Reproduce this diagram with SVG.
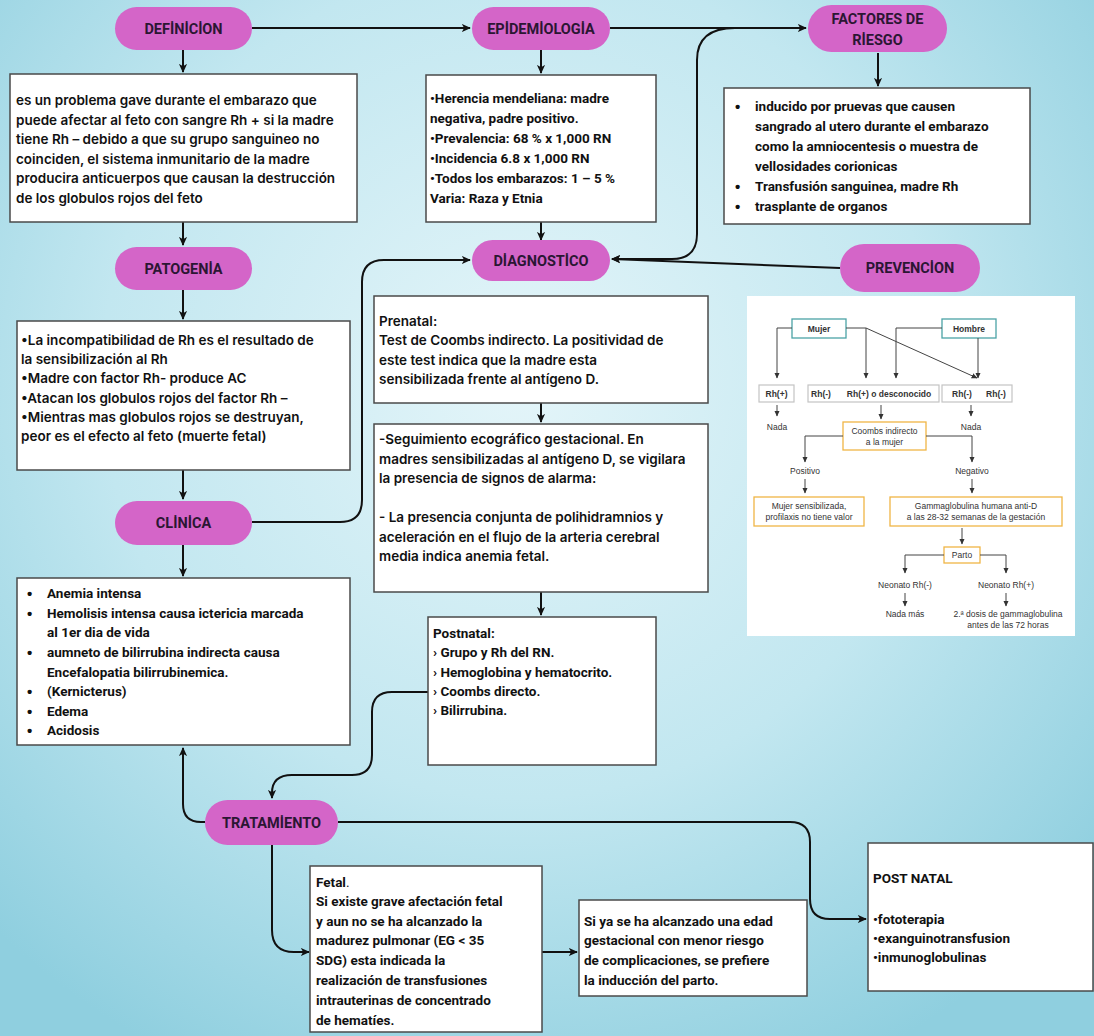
<svg xmlns="http://www.w3.org/2000/svg" width="1094" height="1036" viewBox="0 0 1094 1036">
<defs>
<radialGradient id="bg" cx="520" cy="380" r="760" gradientUnits="userSpaceOnUse">
<stop offset="0" stop-color="#e4f5f9"/>
<stop offset="0.55" stop-color="#c2e7f0"/>
<stop offset="1" stop-color="#8fcfdf"/>
</radialGradient>
<marker id="ah" viewBox="0 0 10 10" refX="9" refY="5" markerWidth="9" markerHeight="9" markerUnits="userSpaceOnUse" orient="auto">
<path d="M0,0.5 L10,5 L0,9.5 L2.5,5 z" fill="#111"/>
</marker>
<marker id="sa" viewBox="0 0 10 10" refX="9" refY="5" markerWidth="6" markerHeight="6" markerUnits="userSpaceOnUse" orient="auto">
<path d="M0,0.5 L10,5 L0,9.5 z" fill="#333"/>
</marker>
<style>
.pill{fill:#d465c8}
.pt{font-family:Roboto,"Liberation Sans",sans-serif;font-weight:700;font-size:14.5px;fill:#2b1633;text-anchor:middle}
.box{fill:#fff;stroke:#4a4a4a;stroke-width:1.5}
.t{font-family:Roboto,"Liberation Sans",sans-serif;font-weight:700;font-size:13.5px;fill:#111}
.tw{font-family:Inter,Roboto,sans-serif;font-weight:600;font-size:13.5px;fill:#111}
.b{font-family:"Liberation Sans",sans-serif;font-size:15px;fill:#111}
.c{fill:none;stroke:#111;stroke-width:2;marker-end:url(#ah)}
.s{fill:none;stroke:#444;stroke-width:1;marker-end:url(#sa)}
.st{font-family:"Liberation Sans",Arial,sans-serif;font-size:8.5px;fill:#333;text-anchor:middle}
.sb{font-weight:700}
.teal{fill:#fff;stroke:#4ca3a6;stroke-width:1.3}
.grey{fill:#fff;stroke:#c4c4c4;stroke-width:1.2}
.org{fill:#fff;stroke:#f0b545;stroke-width:1.3}
</style>
</defs>
<rect width="1094" height="1036" fill="url(#bg)"/>

<g id="connectors">
<path class="c" d="M252,28 H470"/>
<path class="c" d="M610,28 H806"/>
<path class="c" d="M878,53 V86"/>
<path class="c" d="M183,50 V72"/>
<path class="c" d="M541,50 V73"/>
<path class="c" d="M183,222 V245"/>
<path class="c" d="M183,290 V319"/>
<path class="c" d="M183,470 V499"/>
<path class="c" d="M183,545 V576"/>
<path class="c" d="M252,522 H340 Q362,522 362,500 V282 Q362,260 384,260 H470"/>
<path class="c" d="M541,222 V240"/>
<path class="c" d="M735,28 Q697,28 697,60 V234 Q697,259 672,259 H612"/>
<path class="c" d="M840,268 L612,259"/>
<path class="c" d="M541,403 V422"/>
<path class="c" d="M541,592 V615"/>
<path class="c" d="M428,692 H392 Q372,692 372,712 V755 Q372,775 352,775 H292 Q272,775 272,793 V798"/>
<path class="c" d="M205,822 H201 Q183,822 183,804 V748"/>
<path class="c" d="M338,822 H790 Q810,822 810,842 V899 Q810,919 830,919 H866"/>
<path class="c" d="M272,845 V930 Q272,952 294,952 H309"/>
<path class="c" d="M542,952 H577"/>
</g>

<g id="definicion">
<rect class="pill" x="115" y="7" width="137" height="43" rx="21.5"/>
<text class="pt" x="183.5" y="33.5">DEFİNİCİON</text>
</g>
<g id="definicion-box">
<rect class="box" x="10" y="74" width="347" height="148"/>
<text class="tw" x="16" y="105">es un problema gave durante el embarazo que</text>
<text class="tw" x="16" y="124.5">puede afectar al feto con sangre Rh + si la madre</text>
<text class="tw" x="16" y="144">tiene Rh – debido a que su grupo sanguineo no</text>
<text class="tw" x="16" y="163.5">coinciden, el sistema inmunitario de la madre</text>
<text class="tw" x="16" y="183">producira anticuerpos que causan la destrucción</text>
<text class="tw" x="16" y="202.5">de los globulos rojos del feto</text>
</g>

<g id="epidemiologia">
<rect class="pill" x="472" y="7" width="138" height="43" rx="21.5"/>
<text class="pt" x="541" y="33.5">EPİDEMİOLOGİA</text>
</g>
<g id="epidemiologia-box">
<rect class="box" x="426" y="75" width="230" height="147"/>
<text class="t" x="430" y="103">•Herencia mendeliana: madre</text>
<text class="t" x="430" y="123">negativa, padre positivo.</text>
<text class="t" x="430" y="143">•Prevalencia: 68 % x 1,000 RN</text>
<text class="t" x="430" y="163">•Incidencia 6.8 x 1,000 RN</text>
<text class="t" x="430" y="183">•Todos los embarazos: 1 – 5 %</text>
<text class="t" x="430" y="203">Varia: Raza y Etnia</text>
</g>

<g id="factores">
<rect class="pill" x="808" y="5" width="139" height="47" rx="23.5"/>
<text class="pt" x="877.5" y="24">FACTORES DE</text>
<text class="pt" x="877.5" y="45">RİESGO</text>
</g>
<g id="factores-box">
<rect class="box" x="724" y="88" width="306" height="136"/>
<g class="t">
<text class="b" x="735" y="112">•</text><text x="755" y="111">inducido por pruevas que causen</text>
<text x="755" y="131">sangrado al utero durante el embarazo</text>
<text x="755" y="151">como la amniocentesis o muestra de</text>
<text x="755" y="171">vellosidades corionicas</text>
<text class="b" x="735" y="192">•</text><text x="755" y="191">Transfusión sanguinea, madre Rh</text>
<text class="b" x="735" y="212">•</text><text x="755" y="211">trasplante de organos</text>
</g>
</g>

<g id="patogenia">
<rect class="pill" x="115" y="247" width="137" height="43" rx="21.5"/>
<text class="pt" x="183.5" y="273.5">PATOGENİA</text>
</g>
<g id="patogenia-box">
<rect class="box" x="17" y="321" width="333" height="149"/>
<text class="tw" x="21" y="345">•La incompatibilidad de Rh es el resultado de</text>
<text class="tw" x="21" y="364">la sensibilización al Rh</text>
<text class="tw" x="21" y="383">•Madre con factor Rh- produce AC</text>
<text class="tw" x="21" y="402.5">•Atacan los globulos rojos del factor Rh –</text>
<text class="tw" x="21" y="422">•Mientras mas globulos rojos se destruyan,</text>
<text class="tw" x="21" y="441">peor es el efecto al feto (muerte fetal)</text>
</g>

<g id="clinica">
<rect class="pill" x="115" y="501" width="137" height="44" rx="22"/>
<text class="pt" x="183.5" y="528">CLİNİCA</text>
</g>
<g id="clinica-box">
<rect class="box" x="17" y="578" width="333" height="167"/>
<g class="t">
<text class="b" x="27" y="599">•</text><text x="47" y="598">Anemia intensa</text>
<text class="b" x="27" y="618.5">•</text><text x="47" y="617.5">Hemolisis intensa causa ictericia marcada</text>
<text x="47" y="637">al  1er dia de vida</text>
<text class="b" x="27" y="658">•</text><text x="47" y="657">aumneto de bilirrubina indirecta causa</text>
<text x="47" y="676.5">Encefalopatia bilirrubinemica.</text>
<text class="b" x="27" y="697">•</text><text x="47" y="696">(Kernicterus)</text>
<text class="b" x="27" y="716.5">•</text><text x="47" y="715.5">Edema</text>
<text class="b" x="27" y="736">•</text><text x="47" y="735">Acidosis</text>
</g>
</g>

<g id="diagnostico">
<rect class="pill" x="472" y="240" width="138" height="41" rx="20.5"/>
<text class="pt" x="541" y="265.5">DİAGNOSTİCO</text>
</g>
<g id="prenatal-box">
<rect class="box" x="374" y="296" width="334" height="107"/>
<text class="tw" x="379" y="326">Prenatal:</text>
<text class="tw" x="379" y="345">Test de Coombs indirecto. La positividad de</text>
<text class="tw" x="379" y="364.5">este test indica que la madre esta</text>
<text class="tw" x="379" y="384">sensibilizada frente al antígeno D.</text>
</g>
<g id="seguimiento-box">
<rect class="box" x="374" y="424" width="334" height="168"/>
<text class="tw" x="379" y="444">-Seguimiento ecográfico gestacional. En</text>
<text class="tw" x="379" y="463.5">madres sensibilizadas al antígeno D, se vigilara</text>
<text class="tw" x="379" y="483">la presencia de signos de alarma:</text>
<text class="tw" x="379" y="522">- La presencia conjunta de polihidramnios y</text>
<text class="tw" x="379" y="541.5">aceleración en el flujo de la arteria cerebral</text>
<text class="tw" x="379" y="561">media indica anemia fetal.</text>
</g>
<g id="postnatal-box">
<rect class="box" x="428" y="617" width="228" height="148"/>
<text class="t" x="433" y="638">Postnatal:</text>
<text class="t" x="433" y="657">› Grupo y Rh del RN.</text>
<text class="t" x="433" y="677">› Hemoglobina y hematocrito.</text>
<text class="t" x="433" y="696">› Coombs directo.</text>
<text class="t" x="433" y="715">› Bilirrubina.</text>
</g>

<g id="prevencion">
<rect class="pill" x="840" y="244" width="140" height="48" rx="24"/>
<text class="pt" x="910" y="273">PREVENCİON</text>
</g>
<g id="prevencion-panel">
<rect x="747" y="296" width="328" height="340" fill="#fff"/>
<rect class="teal" x="792" y="319" width="54" height="19"/>
<text class="st sb" x="819" y="332">Mujer</text>
<rect class="teal" x="942" y="319" width="54" height="19"/>
<text class="st sb" x="969" y="332">Hombre</text>
<path class="s" d="M792,328 H777 V378"/>
<path class="s" d="M846,328 H866 V378"/>
<path class="s" d="M866,328 L977,378"/>
<path class="s" d="M942,328 H896 V378"/>
<path class="s" d="M978,338 V378"/>
<rect class="grey" x="759" y="385" width="35" height="17"/>
<text class="st sb" x="776.5" y="396.5">Rh(+)</text>
<rect class="grey" x="808" y="385" width="131" height="17"/>
<text class="st sb" x="821" y="396.5">Rh(-)</text>
<text class="st sb" x="889" y="396.5">Rh(+) o desconocido</text>
<rect class="grey" x="942" y="385" width="70" height="17"/>
<text class="st sb" x="962" y="396.5">Rh(-)</text>
<text class="st sb" x="996" y="396.5">Rh(-)</text>
<path class="s" d="M777,405 V416"/>
<path class="s" d="M881,405 V419"/>
<path class="s" d="M971,405 V416"/>
<text class="st" x="777" y="430">Nada</text>
<text class="st" x="971" y="430">Nada</text>
<rect class="org" x="843" y="422" width="83" height="28"/>
<text class="st" x="884.5" y="434">Coombs indirecto</text>
<text class="st" x="884.5" y="445">a la mujer</text>
<path class="s" d="M843,436 H805 V462"/>
<path class="s" d="M926,436 H972 V462"/>
<text class="st" x="805" y="474">Positivo</text>
<text class="st" x="972" y="474">Negativo</text>
<path class="s" d="M805,479 V493"/>
<path class="s" d="M972,479 V493"/>
<rect class="org" x="754" y="497" width="110" height="29"/>
<text class="st" x="809" y="509">Mujer sensibilizada,</text>
<text class="st" x="809" y="520">profilaxis no tiene valor</text>
<rect class="org" x="890" y="497" width="172" height="29"/>
<text class="st" x="976" y="509">Gammaglobulina humana anti-D</text>
<text class="st" x="976" y="520">a las 28-32 semanas de la gestación</text>
<path class="s" d="M962,528 V544"/>
<rect class="org" x="944" y="547" width="36" height="16"/>
<text class="st" x="962" y="558">Parto</text>
<path class="s" d="M944,555 H905 V573"/>
<path class="s" d="M980,555 H1006 V573"/>
<text class="st" x="905" y="588">Neonato Rh(-)</text>
<text class="st" x="1006" y="588">Neonato Rh(+)</text>
<path class="s" d="M905,593 V606"/>
<path class="s" d="M1006,593 V606"/>
<text class="st" x="905" y="617">Nada más</text>
<text class="st" x="1008" y="617">2.ª dosis de gammaglobulina</text>
<text class="st" x="1008" y="628">antes de las 72 horas</text>
</g>

<g id="tratamiento">
<rect class="pill" x="205" y="800" width="133" height="45" rx="22.5"/>
<text class="pt" x="271.5" y="827.5">TRATAMİENTO</text>
</g>
<g id="fetal-box">
<rect class="box" x="310" y="866" width="232" height="166"/>
<text class="t" x="316" y="887">Fetal<tspan font-weight="400">.</tspan></text>
<text class="t" x="316" y="906">Si existe grave afectación fetal</text>
<text class="t" x="316" y="925.5">y aun no se ha alcanzado la</text>
<text class="t" x="316" y="945">madurez pulmonar (EG &lt; 35</text>
<text class="t" x="316" y="965">SDG) esta indicada la</text>
<text class="t" x="316" y="985">realización de transfusiones</text>
<text class="t" x="316" y="1005">intrauterinas de concentrado</text>
<text class="t" x="316" y="1025">de hematíes.</text>
</g>
<g id="siya-box">
<rect class="box" x="579" y="900" width="228" height="96"/>
<text class="t" x="584" y="925.5">Si ya se ha alcanzado una edad</text>
<text class="t" x="584" y="945">gestacional con menor riesgo</text>
<text class="t" x="584" y="965">de complicaciones, se prefiere</text>
<text class="t" x="584" y="985">la inducción del parto.</text>
</g>
<g id="postnatal-tratamiento">
<rect class="box" x="868" y="843" width="225" height="148"/>
<text class="t" x="873" y="883">POST NATAL</text>
<text class="t" x="873" y="924">•fototerapia</text>
<text class="t" x="873" y="943">•exanguinotransfusion</text>
<text class="t" x="873" y="962">•inmunoglobulinas</text>
</g>
</svg>
